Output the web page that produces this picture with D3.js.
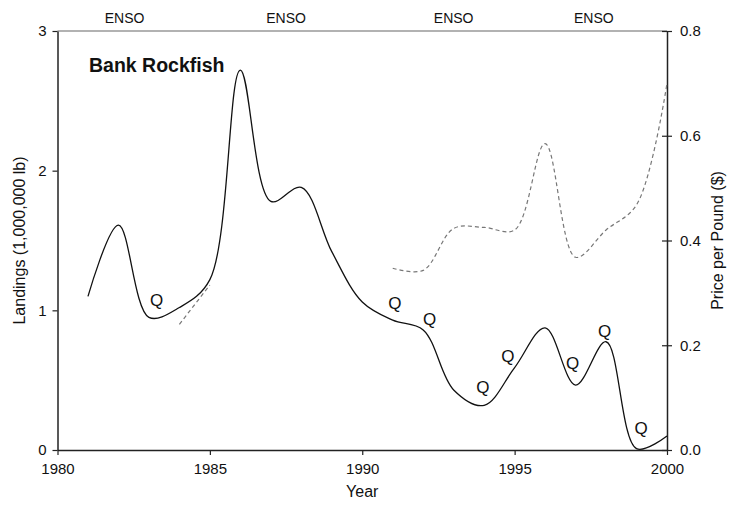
<!DOCTYPE html>
<html>
<head>
<meta charset="utf-8">
<script src="https://cdn.jsdelivr.net/npm/d3@7"></script>
<style>
  html, body { margin: 0; padding: 0; background: #fff; }
  text { font-family: Arial, "Liberation Sans", sans-serif; }
</style>
</head>
<body>
<svg id="chart" width="740" height="508"></svg>
<script>
// ---- data ----
const landingYears = [1981,1982,1983,1984,1985,1986,1987,1988,1989,1990,1991,1992,1993,1994,1995,1996,1997,1998,1999,2000];
const landingValues = [1.10,1.61,0.95,1.02,1.22,2.72,1.78,1.88,1.42,1.06,0.93,0.86,0.43,0.32,0.59,0.875,0.465,0.775,0.01,0.10];

const priceYearsA = [1984,1985];
const priceValuesA = [0.24,0.315];
const priceYearsB = [1991,1992,1993,1994,1995,1996,1997,1998,1999,2000];
const priceValuesB = [0.347,0.343,0.423,0.425,0.42,0.585,0.368,0.42,0.468,0.70];

const ensoYears = [1982.2,1987.5,1993.0,1997.6];
const ensoLabel = "ENSO";

const qYears = [1983.25,1991.07,1992.21,1993.96,1994.78,1996.9,1997.95,1999.15];
const qValues = [1.07,1.05,0.935,0.45,0.67,0.62,0.85,0.155];

const xTicks = [1980,1985,1990,1995,2000];
const yLeftTicks = [0,1,2,3];
const yRightTicks = [0,0.2,0.4,0.6,0.8];

// ---- layout ----
const svg = d3.select("#chart");
const L = 57.5, R = 667, T = 31, B = 450;

const x = d3.scaleLinear().domain([1980,2000]).range([L,R]);
const yL = d3.scaleLinear().domain([0,3]).range([B,T]);
const yR = d3.scaleLinear().domain([0,0.8]).range([B,T]);

// top frame line
svg.append("line").attr("x1",L).attr("x2",R).attr("y1",T).attr("y2",T)
  .attr("stroke","#999").attr("stroke-width",1.5);

// axes
const axX = svg.append("g").attr("transform",`translate(0,${B})`)
  .call(d3.axisBottom(x).tickValues(xTicks).tickFormat(d3.format("d")).tickSizeInner(5).tickSizeOuter(0).tickPadding(8));
const axL = svg.append("g").attr("transform",`translate(${L},0)`)
  .call(d3.axisLeft(yL).tickValues(yLeftTicks).tickFormat(d3.format("d")).tickSizeInner(5).tickSizeOuter(0).tickPadding(6));
const axR = svg.append("g").attr("transform",`translate(${R},0)`)
  .call(d3.axisRight(yR).tickValues(yRightTicks).tickFormat(d3.format(".1f")).tickSizeInner(5).tickSizeOuter(0).tickPadding(8));
axR.selectAll(".tick line").attr("x1",-5);

[axX,axL,axR].forEach(a=>{
  a.selectAll(".domain").attr("stroke","#222").attr("stroke-width",1.5);
  a.selectAll(".tick line").attr("stroke","#222").attr("stroke-width",1.2);
  a.selectAll(".tick text").attr("font-size",15).attr("fill","#111")
    .attr("font-family","Arial, 'Liberation Sans', sans-serif");
});

// lines
const lineL = d3.line().x(d=>x(d[0])).y(d=>yL(d[1])).curve(d3.curveCatmullRom.alpha(0.5));
const lineR = d3.line().x(d=>x(d[0])).y(d=>yR(d[1])).curve(d3.curveCatmullRom.alpha(0.5));

svg.append("path").datum(priceYearsA.map((y,i)=>[y,priceValuesA[i]]))
  .attr("d",lineR).attr("fill","none").attr("stroke","#777").attr("stroke-width",1.2).attr("stroke-dasharray","4,3");
svg.append("path").datum(priceYearsB.map((y,i)=>[y,priceValuesB[i]]))
  .attr("d",lineR).attr("fill","none").attr("stroke","#777").attr("stroke-width",1.2).attr("stroke-dasharray","4,3");

svg.append("path").datum(landingYears.map((y,i)=>[y,landingValues[i]]))
  .attr("d",lineL).attr("fill","none").attr("stroke","#111").attr("stroke-width",1.3);

// Q markers
svg.selectAll("text.q").data(qYears.map((y,i)=>[y,qValues[i]])).enter().append("text")
  .attr("class","q").attr("x",d=>x(d[0])).attr("y",d=>yL(d[1]))
  .attr("text-anchor","middle").attr("dominant-baseline","central")
  .attr("font-size",17).attr("fill","#111").text("Q");

// ENSO labels
svg.selectAll("text.enso").data(ensoYears).enter().append("text")
  .attr("class","enso").attr("x",d=>x(d)).attr("y",23)
  .attr("text-anchor","middle").attr("font-size",14).attr("fill","#111").text(ensoLabel);

// title
svg.append("text").attr("x",89).attr("y",72).attr("font-size",19.5).attr("font-weight","bold")
  .attr("fill","#111").text("Bank Rockfish");

// axis titles
svg.append("text").attr("x",(L+R)/2).attr("y",497).attr("text-anchor","middle")
  .attr("font-size",16).attr("fill","#111").text("Year");
svg.append("text").attr("transform",`translate(25,${(T+B)/2}) rotate(-90)`).attr("text-anchor","middle")
  .attr("font-size",16).attr("fill","#111").text("Landings (1,000,000 lb)");
svg.append("text").attr("transform",`translate(723,${(T+B)/2}) rotate(-90)`).attr("text-anchor","middle")
  .attr("font-size",16).attr("fill","#111").text("Price per Pound ($)");
</script>
</body>
</html>
